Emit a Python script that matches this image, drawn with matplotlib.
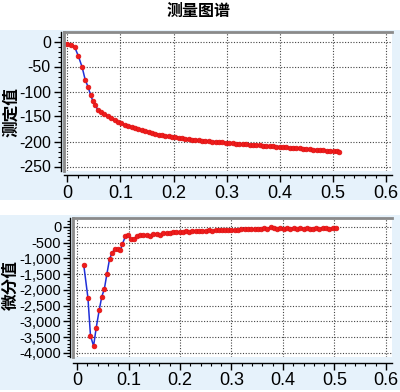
"""Two stacked panels: measured curve and its derivative (测量图谱)."""
import matplotlib
matplotlib.use("Agg")
import matplotlib.pyplot as plt
from matplotlib.patches import Rectangle
from matplotlib.ticker import MultipleLocator, FuncFormatter

plt.rcParams['font.family'] = ['Liberation Sans Narrow', 'Liberation Sans', 'DejaVu Sans']
CJK = ['Noto Sans CJK SC', 'DejaVu Sans']

# measured values (top panel)
meas_x = [0.000, 0.007, 0.014, 0.021, 0.028, 0.034, 0.039, 0.044, 0.048, 0.053, 0.058,
          0.064, 0.070, 0.077, 0.083, 0.089, 0.096, 0.102, 0.108, 0.115, 0.121, 0.127,
          0.134, 0.140, 0.146, 0.153, 0.159, 0.165, 0.172, 0.178, 0.184, 0.191, 0.197,
          0.203, 0.210, 0.216, 0.222, 0.229, 0.235, 0.241, 0.248, 0.254, 0.260, 0.267,
          0.273, 0.279, 0.286, 0.292, 0.298, 0.305, 0.311, 0.317, 0.324, 0.330, 0.336,
          0.343, 0.349, 0.355, 0.362, 0.368, 0.374, 0.381, 0.387, 0.393, 0.400, 0.406,
          0.412, 0.419, 0.425, 0.431, 0.438, 0.444, 0.450, 0.457, 0.463, 0.469, 0.476,
          0.482, 0.488, 0.495, 0.501, 0.507, 0.512]
meas_y = [-5, -7, -11, -29, -51, -77, -90, -107, -118, -127, -138,
          -142, -145, -150, -154, -158, -161, -164, -167, -169, -171, -173,
          -175, -177, -179, -181, -183, -184, -186, -187, -188, -189, -190,
          -191, -192, -193, -194, -195, -196, -196, -197, -198, -198, -199,
          -200, -200, -201, -201, -202, -202, -203, -204, -204, -205, -205,
          -206, -206, -207, -207, -208, -208, -209, -209, -210, -210, -211,
          -211, -212, -212, -213, -213, -214, -214, -215, -216, -216, -217,
          -217, -218, -218, -219, -219, -220]

# derivative values (bottom panel)
diff_x = [0.013, 0.021, 0.026, 0.032, 0.037, 0.043, 0.048, 0.053, 0.058, 0.063, 0.068,
          0.073, 0.079, 0.084, 0.088, 0.094, 0.098, 0.104, 0.110, 0.117, 0.123, 0.129,
          0.136, 0.142, 0.148, 0.155, 0.161, 0.167, 0.174, 0.180, 0.186, 0.193, 0.199,
          0.205, 0.212, 0.218, 0.224, 0.231, 0.237, 0.243, 0.250, 0.256, 0.262, 0.269,
          0.275, 0.281, 0.288, 0.294, 0.300, 0.307, 0.313, 0.319, 0.326, 0.332, 0.338,
          0.345, 0.351, 0.357, 0.364, 0.370, 0.376, 0.383, 0.389, 0.395, 0.402, 0.408,
          0.414, 0.421, 0.427, 0.433, 0.440, 0.446, 0.452, 0.459, 0.465, 0.471, 0.478,
          0.484, 0.490, 0.497, 0.503]
diff_y = [-1220, -2245, -3450, -3780, -3210, -2630, -2210, -1960, -1480, -1020, -815,
          -710, -700, -740, -540, -290, -250, -380, -370, -300, -260, -250,
          -260, -280, -210, -230, -260, -190, -200, -190, -170, -160, -150,
          -160, -140, -150, -130, -120, -130, -140, -120, -110, -130, -100,
          -90, -110, -100, -110, -100, -90, -100, -60, -50, -70, -60,
          -80, -60, -70, -40, -60, 0, -20, -50, -30, -60, -40,
          -50, -30, -60, -40, -50, -40, -60, -50, -30, -50, -40,
          -30, -50, -30, -40]

W, H = 400, 392
fig = plt.figure(figsize=(W / 100, H / 100), dpi=100)
fig.patch.set_facecolor('white')

panel_bg = '#e6f2fb'
# light blue panel backgrounds, kept behind the axes
fig.patches.append(Rectangle((0, 1 - 200 / H), 1, 170 / H, transform=fig.transFigure,
                             facecolor=panel_bg, edgecolor='none', zorder=-5))
fig.patches.append(Rectangle((0, 1 - 390 / H), 1, 175 / H, transform=fig.transFigure,
                             facecolor=panel_bg, edgecolor='none', zorder=-5))

fig.text(199 / W, 1 - 11 / H, '测量图谱', family=CJK, fontsize=11.5, fontweight='bold',
         ha='center', va='center')

ax1 = fig.add_axes([64 / W, 1 - 171 / H, 328 / W, 139 / H])
ax2 = fig.add_axes([73 / W, 1 - 357 / H, 319 / W, 139 / H])


def thousands(v, pos):
    return f'{int(round(v)):,}'


for ax, xs, ys, xlim, ylim, ymaj, ymin, drop, label, ly in [
        (ax1, meas_x, meas_y, (-0.006, 0.611), (-259, 19), 50, 10, 3, '测定值', 112),
        (ax2, diff_x, diff_y, (-0.008, 0.612), (-4127, 285), 500, 100, 4, '微分值', 285)]:
    ax.set_facecolor('white')
    ax.plot(xs, ys, color='#1f2fd8', lw=1.1, zorder=3)
    ax.plot(xs, ys, 'o', color='#ee1c1c', ms=3.4, mec='#e01010', mew=0.5, zorder=4)
    ax.set_xlim(*xlim)
    ax.set_ylim(*ylim)
    ax.xaxis.set_major_locator(MultipleLocator(0.1))
    ax.xaxis.set_minor_locator(MultipleLocator(0.02))
    ax.yaxis.set_major_locator(MultipleLocator(ymaj))
    ax.yaxis.set_minor_locator(MultipleLocator(ymin))
    ax.xaxis.set_major_formatter(FuncFormatter(lambda v, p: f'{v:g}'))
    ax.yaxis.set_major_formatter(FuncFormatter(thousands))
    ax.grid(True, which='major', linestyle=(0, (1, 1.5)), color='#444444', lw=0.8)
    ax.spines['right'].set_visible(False)
    ax.spines['top'].set_color('#8a8a8a')
    ax.spines['top'].set_linewidth(2)
    ax.spines['left'].set_position(('outward', 2.5))
    ax.spines['bottom'].set_position(('outward', drop))
    ax.spines['left'].set_linewidth(1.0)
    ax.spines['bottom'].set_linewidth(1.0)
    # grey border on the left edge of the plot area
    ax.plot([0, 0], [0, 1], transform=ax.transAxes, color='#8a8a8a', lw=2,
            clip_on=False, zorder=5)
    ax.tick_params(which='major', length=5, width=1, direction='out', pad=2)
    ax.tick_params(which='minor', length=2.5, width=0.8, direction='out')
    fig.text(11 / W, 1 - ly / H, label, family=CJK, fontsize=12, fontweight='bold',
             rotation=90, ha='center', va='center')

ax1.tick_params(axis='y', labelsize=11.5)
ax1.tick_params(axis='x', labelsize=13)
ax2.tick_params(axis='y', labelsize=10.5, pad=1)
ax2.tick_params(axis='x', labelsize=13)

fig.savefig('out.png', dpi=100)
